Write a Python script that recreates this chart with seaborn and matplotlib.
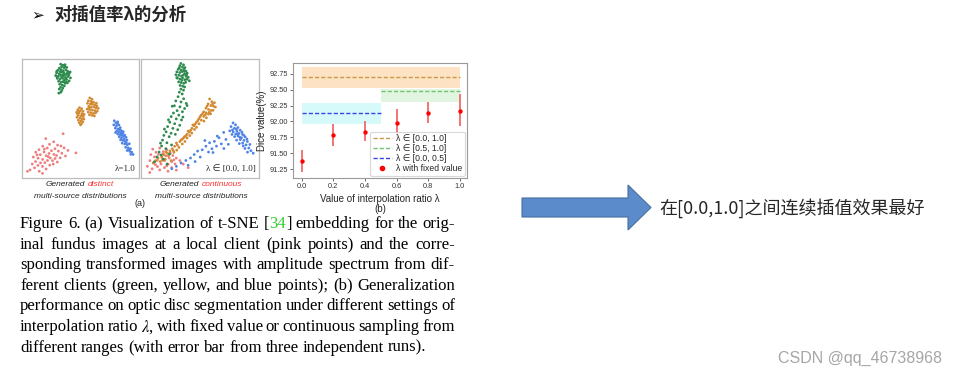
import matplotlib
matplotlib.use("Agg")
import matplotlib.pyplot as plt
import seaborn as sns
import pandas as pd
from matplotlib.lines import Line2D
from matplotlib.patches import Polygon

sns.set_style("white")
plt.rcParams["font.family"] = ["Liberation Sans", "DejaVu Sans"]
plt.rcParams["mathtext.fontset"] = "stix"

W, H = 958, 377

# ---- data: t-SNE panels (panel units 0-100) ----
left_green = [(33.2,95.6),(35.1,94.8),(36.9,95.2),(34.0,93.4),(36.2,92.7),(32.1,92.3),(38.4,92.9),(30.8,90.6),
              (33.5,91.1),(35.3,90.2),(37.6,90.8),(39.2,89.7),(41.3,89.1),(29.7,88.4),(31.9,87.6),(34.4,88.9),
              (36.1,87.3),(38.7,88.0),(40.2,86.6),(28.9,86.1),(31.2,85.4),(33.0,86.7),(35.6,85.9),(37.3,84.6),
              (39.5,85.2),(41.6,84.1),(30.3,83.7),(32.6,83.0),(34.9,83.8),(36.4,82.2),(38.2,82.9),(40.4,81.6),
              (31.4,81.3),(33.7,80.5),(35.2,81.0),(37.1,79.6),(39.0,79.9),(32.3,78.8),(34.5,78.1),(36.3,77.4),
              (33.1,76.2),(35.0,75.5),(32.0,74.7),(34.2,73.6),(33.3,72.1),(31.6,71.3),(36.8,93.9),(32.8,89.4),
              (34.8,86.3),(37.9,86.9),(30.1,85.0),(33.9,84.9),(36.6,80.3),(38.3,80.7),(35.9,88.6),(40.6,88.3),
              (29.8,89.6),(37.5,83.3)]
left_orange = [(49.3,59.1),(51.2,58.2),(47.8,57.3),(50.1,56.6),(52.4,56.0),(46.9,55.2),(49.0,54.7),(51.5,54.1),
               (53.3,53.5),(48.1,52.8),(50.4,52.2),(52.6,51.7),(47.2,51.0),(49.6,50.4),(51.3,49.8),(53.1,49.5),
               (48.4,48.6),(50.7,47.9),(52.2,47.2),(49.1,46.5),(51.0,45.6),(50.2,44.6),(48.9,56.1),(51.9,52.9),
               (47.7,53.9),(58.2,67.3),(60.1,66.2),(57.0,64.9),(59.3,64.4),(61.4,63.7),(56.2,62.8),(58.6,62.1),
               (60.5,61.9),(62.7,61.5),(64.3,60.6),(57.3,60.2),(59.5,59.5),(61.8,59.9),(63.4,58.8),(65.4,58.5),
               (55.9,57.9),(58.1,57.4),(60.4,57.1),(62.5,56.6),(64.6,56.2),(56.8,55.4),(59.1,54.9),(61.3,54.3),
               (63.2,54.8),(57.9,53.1),(60.2,52.6),(62.1,52.2),(59.9,63.3),(63.8,62.9),(57.6,58.9)]
left_blue = [(79.2,48.1),(80.6,46.3),(82.1,47.2),(78.8,44.6),(81.0,43.7),(83.2,44.5),(80.1,41.9),(82.4,41.2),
             (84.3,42.3),(81.3,39.4),(83.0,38.7),(85.2,39.8),(86.9,38.9),(82.2,36.9),(84.1,36.4),(86.3,37.3),
             (88.1,36.1),(83.5,34.6),(85.4,33.8),(87.2,34.9),(89.3,34.2),(84.6,32.1),(86.5,31.6),(88.4,30.8),
             (90.1,31.9),(86.0,29.3),(88.2,28.6),(90.4,27.9),(92.1,28.8),(89.0,25.8),(91.2,25.3),(93.1,24.6),
             (90.3,23.1),(92.5,22.4),(94.2,21.7),(95.3,19.8),(93.4,19.9),(85.7,35.9),(87.8,32.7),(81.9,45.5),
             (83.8,40.6),(89.6,29.7),(91.7,23.9),(84.9,38.0),(80.3,38.2)]
left_pink = [(35.3,37.2),(20.4,33.1),(27.2,30.4),(23.6,28.3),(30.5,27.6),(17.8,26.7),(33.4,26.9),(21.7,25.2),
             (28.3,24.6),(36.1,25.3),(14.6,23.8),(25.3,22.9),(31.2,22.6),(39.4,23.2),(46.3,21.1),(11.8,21.7),
             (18.9,21.9),(23.2,20.6),(27.4,19.8),(34.2,20.8),(15.7,19.6),(20.8,18.7),(29.6,18.9),(37.3,18.5),
             (9.7,17.6),(13.8,16.6),(24.3,16.8),(28.4,16.4),(32.8,16.9),(17.7,15.6),(21.9,14.7),(26.2,14.6),
             (11.6,13.8),(15.9,12.7),(19.6,12.9),(30.3,13.4),(8.8,11.7),(13.7,10.6),(23.8,10.8),(17.6,9.7),
             (10.8,8.6),(20.7,7.6),(6.9,6.8),(14.8,5.7),(4.7,5.6),(17.6,3.9),(26.8,11.7),(22.6,17.9),
             (19.2,24.3),(12.9,19.4)]

right_green = [(34.1,96.2),(36.3,95.1),(33.2,94.3),(35.4,93.2),(37.5,92.8),(31.8,91.4),(34.2,90.7),(36.6,91.3),
               (38.3,89.8),(30.7,89.2),(33.1,88.6),(35.2,89.4),(37.3,87.7),(39.4,88.1),(29.9,86.8),(32.4,86.3),
               (34.6,85.7),(36.2,86.5),(38.5,85.4),(40.3,84.6),(31.1,83.9),(33.3,83.2),(35.5,84.1),(37.4,82.6),
               (39.2,83.0),(41.2,81.7),(32.2,80.8),(34.3,80.2),(36.5,79.6),(38.1,80.4),(33.4,77.8),(35.6,77.2),
               (37.2,76.5),(34.1,74.7),(36.3,73.8),(32.8,72.1),(35.2,70.6),(36.9,89.9),(32.7,92.6),(38.9,86.7),
               (30.6,84.4),(34.9,82.1),(31.7,68.3),(36.4,66.6),(29.8,64.8),(34.2,63.9),(38.6,62.7),(28.6,60.7),
               (33.3,59.8),(37.2,58.4),(30.9,56.6),(35.4,55.7),(27.8,54.6),(32.3,52.8),(25.9,51.6),(30.2,49.7),
               (34.6,48.8),(24.7,46.9),(28.8,45.6),(33.1,44.3),(22.9,43.2),(27.3,41.7),(31.4,40.6),(21.6,38.8),
               (25.8,37.6),(19.7,35.8),(24.2,34.7),(18.6,31.8),(22.3,29.6),(17.8,26.9),(21.4,24.6),(15.7,21.8),
               (13.9,17.7),(19.3,15.8),(11.8,13.6),(22.4,11.7),(26.8,60.3),(39.3,60.9),(23.6,48.9),(35.8,51.2),
               (20.2,41.1),(29.4,36.7),(16.9,29.3),(26.2,27.8),(24.5,20.2),(17.4,19.3)]
right_orange = [(58.3,66.4),(60.2,64.1),(62.4,63.3),(57.1,62.2),(59.4,60.8),(61.6,60.3),(63.2,59.6),(55.2,58.7),
                (57.4,57.6),(59.6,56.8),(61.2,56.9),(53.3,55.6),(55.4,54.8),(57.3,53.7),(59.2,53.9),(51.1,52.7),
                (53.4,51.8),(55.6,50.6),(49.2,49.7),(51.3,48.6),(53.5,47.8),(47.1,46.7),(49.4,45.6),(45.2,43.8),
                (47.3,42.6),(43.4,41.7),(45.6,40.8),(41.2,38.6),(43.3,37.7),(39.4,36.8),(41.6,35.6),(37.2,34.7),
                (39.3,33.6),(35.4,32.8),(37.5,30.7),(33.2,30.6),(35.3,28.6),(31.1,27.7),(28.8,26.6),(32.4,25.7),
                (26.8,24.6),(24.9,22.7),(28.2,21.6),(22.7,20.8),(19.8,19.6),(23.6,18.7),(17.9,17.8),(14.8,16.6),
                (20.9,15.7),(12.8,14.6),(16.7,13.8),(10.8,12.7),(25.8,14.6),(60.8,62.1),(56.2,60.4),(58.1,55.2),
                (52.4,54.1),(54.7,53.2),(50.2,51.3),(48.3,48.2),(46.1,45.2),(44.2,44.6),(42.3,40.1),(40.2,39.4),
                (38.3,35.6),(36.4,33.8),(34.2,31.9),(30.3,29.4),(27.6,23.1),(21.4,21.9),(30.6,23.4),(18.6,14.9)]
right_blue = [(78.1,46.3),(80.2,44.7),(76.4,43.2),(79.3,41.8),(82.2,42.4),(75.3,39.6),(78.2,38.8),(81.4,39.3),
              (84.1,40.2),(77.2,36.6),(80.3,36.9),(83.2,37.4),(86.1,36.6),(79.4,34.7),(82.3,35.3),(85.2,33.8),
              (88.3,34.6),(81.1,31.8),(84.2,32.3),(87.3,31.6),(90.2,30.7),(83.4,28.9),(86.2,29.3),(89.1,27.8),
              (92.3,28.2),(88.2,24.8),(91.4,25.2),(93.2,22.9),(95.1,20.8),(90.3,21.7),(80.9,41.1),(85.6,38.6),
              (87.1,35.9),(83.8,34.2),(89.8,32.8),(86.7,26.9),(77.6,40.4),(81.8,37.1),(70.2,38.3),(66.3,33.8),
              (72.1,32.4),(62.4,30.8),(68.2,28.7),(58.3,29.6),(64.1,26.8),(55.2,26.7),(60.3,24.6),(70.4,24.8),
              (52.1,23.7),(57.4,21.8),(48.2,22.6),(45.3,19.7),(50.4,17.6),(42.2,16.8),(38.3,14.7),(46.1,13.8),
              (34.2,12.6),(30.3,9.8),(40.2,10.7),(26.4,7.8),(64.8,35.2),(61.2,21.4),(54.3,31.5),(74.1,28.3)]
right_pink = [(10.3,24.2),(16.2,25.1),(22.4,23.7),(13.1,21.6),(19.3,22.2),(25.2,20.8),(8.7,19.6),(15.2,19.8),
              (21.4,18.6),(27.3,18.9),(11.8,17.7),(18.3,16.6),(24.2,16.8),(30.2,16.7),(7.9,14.6),(14.2,14.8),
              (20.3,14.6),(26.4,13.7),(33.2,14.7),(10.8,12.6),(17.3,11.8),(23.4,11.6),(29.2,11.8),(36.1,11.7),
              (14.3,9.6),(20.2,8.7),(26.3,8.8),(9.8,7.7),(16.2,6.8),(23.2,5.7),(7.8,4.6),(30.2,6.6),
              (40.3,8.7),(5.8,9.8),(12.6,11.2),(18.9,20.5),(28.1,15.2),(22.1,10.2)]

# ---- data: interpolation ratio panel ----
lam = [0.0, 0.2, 0.4, 0.6, 0.8, 1.0]
dice_fixed = [91.38, 91.79, 91.84, 91.98, 92.14, 92.17]
dice_lo = [91.20, 91.62, 91.69, 91.76, 91.98, 91.93]
dice_hi = [91.55, 91.96, 92.01, 92.19, 92.30, 92.43]
range_labels = ["[0.0, 1.0]", "[0.5, 1.0]", "[0.0, 0.5]"]
range_start = [0.0, 0.5, 0.0]
range_end = [1.0, 1.0, 0.5]
range_mean = [92.70, 92.48, 92.13]
range_lo = [92.52, 92.31, 91.96]
range_hi = [92.86, 92.51, 92.29]
yticks = [91.25, 91.50, 91.75, 92.00, 92.25, 92.50, 92.75]

caption_lines = [
    "Figure 6. (a) Visualization of t-SNE [34] embedding for the orig-",
    "inal fundus images at a local client (pink points) and the corre-",
    "sponding transformed images with amplitude spectrum from dif-",
    "ferent clients (green, yellow, and blue points); (b) Generalization",
    "performance on optic disc segmentation under different settings of",
    "interpolation ratio $\\lambda$, with fixed value or continuous sampling from",
    "different ranges (with error bar from three independent runs).",
]

colors = {"green": "#2e8b4e", "orange": "#d28b33", "blue": "#4f84e6", "pink": "#ef7f7f"}

fig = plt.figure(figsize=(W / 100, H / 100), dpi=100)
fig.patch.set_facecolor("white")


def ax_at(l, t, r, b):
    return fig.add_axes([l / W, 1 - b / H, (r - l) / W, (b - t) / H])


def ftext(x, y, s, **kw):
    return fig.text(x / W, 1 - y / H, s, **kw)


def tsne_panel(ax, clusters, label):
    rows = []
    for name, pts in clusters.items():
        rows += [{"x": p[0], "y": p[1], "c": name} for p in pts]
    df = pd.DataFrame(rows)
    sns.scatterplot(data=df, x="x", y="y", hue="c", palette=colors, s=4,
                    linewidth=0, legend=False, ax=ax)
    ax.set_xlim(0, 100)
    ax.set_ylim(0, 100)
    ax.set_xticks([])
    ax.set_yticks([])
    ax.set_xlabel("")
    ax.set_ylabel("")
    for sp in ax.spines.values():
        sp.set_color("#bdbdbd")
        sp.set_linewidth(0.9)
    ax.text(0.97, 0.04, label, transform=ax.transAxes, ha="right", va="bottom",
            fontsize=6.5, family=["Liberation Serif", "DejaVu Sans"])


ax1 = ax_at(22, 59, 138.5, 178)
tsne_panel(ax1, {"pink": left_pink, "green": left_green, "orange": left_orange, "blue": left_blue},
           "λ=1.0")
ax2 = ax_at(140.5, 59, 259, 178)
tsne_panel(ax2, {"pink": right_pink, "blue": right_blue, "orange": right_orange, "green": right_green},
           "λ ∈ [0.0, 1.0]")

# ---- panel (b) ----
ax3 = ax_at(293, 63, 467, 178)
band_cols = ["#fde3c3", "#e2f5e0", "#d6fafa"]
line_cols = ["#c89a4a", "#6fc46f", "#3a44e6"]
for i in range(3):
    ax3.fill_between([range_start[i], range_end[i]], range_lo[i], range_hi[i],
                     color=band_cols[i], lw=0, zorder=1)
    ax3.hlines(range_mean[i], range_start[i], range_end[i], colors=line_cols[i],
               linestyles=(0, (3, 1.5)), lw=1.0, zorder=2)
ax3.vlines(lam, dice_lo, dice_hi, colors="#f07575", lw=1.4, zorder=3)
sns.scatterplot(x=lam, y=dice_fixed, color="#ff0000", s=10, linewidth=0, ax=ax3, zorder=4)
ax3.set_xlim(-0.055, 1.045)
ax3.set_ylim(91.11, 92.92)
ax3.set_xticks(lam)
ax3.set_xticklabels([f"{v:.1f}" for v in lam])
ax3.set_yticks(yticks)
ax3.set_yticklabels([f"{v:.2f}" for v in yticks])
ax3.tick_params(labelsize=5.3, length=2, width=0.5, pad=1.5, direction="out",
                bottom=True, left=True, colors="#333333")
for sp in ax3.spines.values():
    sp.set_color("#9a9a9a")
    sp.set_linewidth(0.8)
ax3.set_ylabel("Dice value(%)", fontsize=7, labelpad=2)
ax3.set_xlabel("Value of interpolation ratio λ\n(b)", fontsize=7, labelpad=3, linespacing=1.05)
handles = [Line2D([], [], color=line_cols[i], ls=(0, (3, 1.5)), lw=1.0) for i in range(3)]
handles.append(Line2D([], [], color="#ff0000", marker="o", ls="", markersize=3))
labels = ["λ ∈ " + r for r in range_labels] + ["λ with fixed value"]
leg = ax3.legend(handles, labels, loc="lower right", fontsize=6.2, frameon=True, fancybox=True,
                 handlelength=2.2, borderpad=0.3, labelspacing=0.12, handletextpad=0.5,
                 borderaxespad=0.25)
leg.get_frame().set_edgecolor("#cfcfcf")
leg.get_frame().set_linewidth(0.8)

# ---- slide texts ----
ftext(31, 15, "\u27a2", fontsize=11, fontweight="bold", color="black",
      family=["DejaVu Sans"], va="center")
ftext(54, 15, "对插值率λ的分析", fontsize=12.5, fontweight="bold",
      family=["Noto Sans CJK SC", "DejaVu Sans"], va="center")
ftext(140, 204, "(a)", fontsize=6.5, ha="center", va="center")
ftext(80, 196, "multi-source distributions", fontsize=6, style="italic", ha="center", va="center")
ftext(201, 196, "multi-source distributions", fontsize=6, style="italic", ha="center", va="center")

arrow_px = [(522, 198), (628, 198), (628, 185), (651, 207.5), (628, 230), (628, 217), (522, 217)]
arrow = Polygon([(x / W, 1 - y / H) for x, y in arrow_px], closed=True, facecolor="#5b8bcb",
                edgecolor="#46709f", lw=0.8, transform=fig.transFigure)
fig.patches.append(arrow)
ftext(659, 208, "在[0.0,1.0]之间连续插值效果最好", fontsize=13,
      family=["Noto Sans CJK SC", "DejaVu Sans"], va="center")
ftext(942, 358, "CSDN @qq_46738968", fontsize=11.5, color="#a6a6a6", ha="right", va="center")

fig.canvas.draw()
r = fig.canvas.get_renderer()


def place_row(parts, x0, y, x1=None, gap=None, center=None):
    arts = [[ftext(0, y, s, **kw) for s, kw in word] for word in parts]
    widths = [[a.get_window_extent(r).width for a in word] for word in arts]
    total = sum(sum(w) for w in widths)
    if gap is None:
        gap = (x1 - x0 - total) / max(len(arts) - 1, 1)
    if center is not None:
        x0 = center - (total + gap * (len(arts) - 1)) / 2
    x = x0
    for word, ws in zip(arts, widths):
        for a, w in zip(word, ws):
            a.set_x(x / W)
            x += w
        x += gap


cap_kw = dict(fontsize=12.0, family="Liberation Serif", va="center", color="black")
for i, line in enumerate(caption_lines):
    words = []
    for w in line.split(" "):
        if w == "[34]":
            words.append([("[", cap_kw), ("34", dict(cap_kw, color="#2fcf2f")), ("]", cap_kw)])
        else:
            words.append([(w, cap_kw)])
    y = 224 + i * 20.6
    if i == len(caption_lines) - 1:
        place_row(words, 20, y, gap=4.0)
    else:
        place_row(words, 20, y, x1=455)

it_kw = dict(fontsize=6, style="italic", va="center", color="#222222")
red_kw = dict(it_kw, color="#ff3030")
place_row([[("Generated", it_kw)], [("distinct", red_kw)]], 0, 185, gap=2.5, center=80)
place_row([[("Generated", it_kw)], [("continuous", red_kw)]], 0, 185, gap=2.5, center=201)

fig.savefig("out.png", dpi=100, facecolor="white")
